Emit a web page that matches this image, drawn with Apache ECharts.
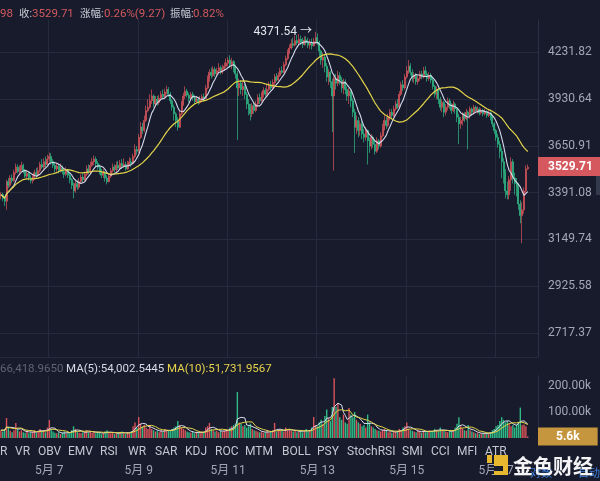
<!DOCTYPE html>
<html><head><meta charset="utf-8">
<script src="https://cdn.jsdelivr.net/npm/echarts@6/dist/echarts.min.js"></script>
<style>html,body{margin:0;padding:0;background:#171b2b;}#c{width:600px;height:481px;}</style>
</head><body><div id="c"></div>
<script>
// ---- data (hourly ETH/USDT candles) ----
const firstOpen = 3375;
const closes = [3380,3360,3345,3450,3430,3470,3455,3500,3530,3505,
3520,3540,3510,3480,3495,3470,3455,3470,3500,3485,
3510,3545,3530,3560,3545,3575,3590,3560,3540,3520,
3535,3510,3525,3505,3490,3510,3485,3460,3430,3400,
3440,3420,3450,3475,3460,3490,3520,3505,3540,3560,
3575,3550,3530,3505,3485,3500,3470,3450,3480,3510,
3530,3515,3540,3525,3550,3535,3545,3520,3545,3560,
3550,3590,3630,3620,3700,3760,3740,3800,3860,3880,
3920,3950,3900,3930,3910,3935,3960,3945,3975,3990,
3960,3920,3880,3840,3800,3760,3840,3900,3950,3980,
3955,3935,3960,3940,3915,3930,3910,3925,3945,3935,
4000,4060,4100,4080,4120,4090,4110,4130,4100,4120,
4140,4160,4180,4150,4170,4130,4090,4000,4030,3990,
4010,3960,3900,3870,3840,3890,3860,3900,3940,3920,
3960,3985,3960,3990,4020,4000,4035,4070,4050,4080,
4110,4100,4150,4190,4230,4260,4290,4280,4310,4295,
4320,4300,4285,4315,4300,4280,4300,4275,4305,4330,
4300,4240,4180,4200,4140,4070,4100,4040,3950,4060,
4030,4080,4050,4000,4040,3990,3950,3980,3920,3850,
3760,3800,3740,3780,3720,3700,3740,3680,3650,3700,
3660,3620,3680,3650,3710,3750,3800,3770,3820,3850,
3830,3870,3900,3880,3960,4020,4000,4070,4110,4140,
4100,4060,4080,4040,4060,4090,4070,4110,4090,4060,
4080,4050,4010,3960,3990,3930,3880,3910,3850,3880,
3920,3890,3860,3900,3870,3820,3780,3800,3840,3810,
3850,3830,3870,3850,3880,3860,3870,3845,3860,3840,
3855,3830,3845,3820,3780,3740,3700,3660,3620,3560,
3500,3400,3380,3460,3560,3470,3440,3420,3330,3270,
3300,3400,3520.44,3529.71];
const highs = [3395,3390,3372,3460,3470,3485,3490,3515,3550,3545,
3540,3560,3550,3520,3515,3505,3485,3490,3515,3525,
3530,3560,3575,3580,3590,3600,3612,3608,3575,3560,
3555,3545,3550,3540,3525,3530,3520,3500,3470,3445,
3455,3460,3470,3490,3495,3505,3540,3545,3560,3580,
3595,3590,3565,3545,3520,3520,3510,3485,3495,3525,
3550,3545,3560,3565,3570,3575,3580,3560,3565,3585,
3580,3605,3660,3650,3720,3790,3785,3830,3890,3930,
3960,3990,3960,3950,3950,3955,3980,3990,3995,4015,
4005,3975,3930,3895,3850,3820,3855,3920,3970,4010,
3995,3970,3975,3975,3955,3950,3945,3950,3960,3965,
4020,4080,4120,4130,4140,4135,4130,4160,4145,4150,
4165,4190,4200,4212,4195,4180,4150,4110,4060,4050,
4040,4025,3975,3930,3900,3905,3910,3920,3960,3965,
3975,4005,4000,4020,4040,4045,4055,4090,4095,4100,
4130,4140,4170,4210,4250,4285,4320,4330,4345,4350,
4355,4345,4330,4340,4340,4330,4320,4325,4330,4371.54,
4360,4310,4250,4230,4215,4160,4120,4110,4060,4080,
4090,4110,4100,4070,4060,4055,4010,4000,3990,3935,
3870,3830,3820,3800,3800,3750,3760,3745,3700,3720,
3710,3680,3700,3690,3730,3780,3830,3820,3840,3870,
3870,3890,3920,3930,3980,4040,4050,4090,4140,4180,
4160,4120,4100,4095,4080,4110,4110,4135,4140,4110,
4100,4095,4065,4020,4010,4000,3945,3930,3920,3900,
3940,3935,3905,3920,3910,3880,3840,3820,3850,3850,
3870,3860,3885,3880,3895,3890,3885,3880,3875,3870,
3870,3860,3865,3855,3830,3790,3750,3720,3680,3640,
3580,3520,3450,3480,3585,3575,3500,3470,3440,3350,
3340,3420,3540,3545];
const lows = [3355,3345,3320,3300,3415,3420,3440,3450,3490,3495,
3490,3510,3495,3470,3465,3455,3440,3440,3460,3470,
3475,3500,3520,3520,3530,3540,3555,3545,3525,3500,
3505,3495,3500,3490,3470,3480,3470,3440,3410,3360,
3390,3405,3410,3440,3445,3450,3480,3490,3495,3530,
3540,3535,3515,3490,3470,3470,3450,3435,3445,3470,
3500,3500,3505,3515,3515,3520,3525,3510,3515,3535,
3530,3545,3580,3600,3610,3690,3720,3730,3790,3850,
3870,3900,3880,3880,3890,3895,3920,3930,3935,3960,
3945,3900,3860,3800,3760,3740,3755,3830,3890,3930,
3940,3910,3925,3920,3900,3905,3895,3900,3910,3915,
3930,3990,4040,4060,4070,4070,4080,4100,4085,4090,
4110,4130,4140,4130,4120,4100,4060,3685,3950,3960,
3950,3930,3870,3830,3800,3820,3840,3850,3880,3900,
3910,3940,3945,3950,3980,3985,3990,4020,4040,4045,
4070,4090,4095,4140,4180,4220,4250,4260,4270,4280,
4285,4280,4260,4275,4280,4260,4255,4250,4270,4290,
4280,4200,4150,4130,4100,4040,4020,4000,3730,3510,
3990,4010,4020,3970,3960,3960,3920,3900,3880,3820,
3610,3720,3700,3710,3690,3670,3680,3545,3610,3630,
3640,3600,3610,3630,3640,3700,3740,3750,3760,3800,
3810,3820,3860,3870,3880,3950,3980,3990,4060,4090,
4080,4040,4030,4020,4020,4045,4055,4060,4075,4040,
4045,4030,3990,3940,3930,3900,3860,3850,3820,3830,
3860,3870,3840,3850,3840,3790,3660,3750,3770,3790,
3800,3630,3810,3830,3835,3845,3840,3830,3835,3825,
3830,3815,3820,3800,3760,3720,3680,3640,3580,3470,
3440,3360,3355,3355,3400,3440,3380,3370,3300,3230,
3130,3280,3390,3516];
const volumesK = [30,25,35,77,40,28,22,30,58,35,
25,30,22,20,28,18,22,25,30,20,
28,35,25,30,22,40,69,35,25,20,
18,22,15,20,25,18,22,20,30,45,
35,25,20,18,22,25,30,22,28,20,
25,18,22,20,15,18,25,30,22,18,
20,15,18,22,20,25,18,15,22,20,
25,45,60,40,81,55,45,50,40,35,
45,35,30,25,28,22,30,25,35,30,
28,30,35,40,45,65,50,40,35,30,
25,22,20,25,18,22,20,18,25,22,
40,45,58,35,30,25,28,22,30,25,
28,35,30,40,45,50,55,177,60,55,
45,50,40,45,55,35,30,28,25,22,
25,20,22,28,20,25,30,58,25,30,
28,35,25,40,30,35,28,25,30,22,
25,30,22,28,35,25,30,40,81,50,
45,60,70,55,85,110,75,65,119,230,
120,135,80,70,90,60,55,115,90,80,
100,70,60,55,45,50,40,90,60,45,
40,35,30,28,25,30,35,28,22,25,
20,25,22,28,35,30,40,45,60,35,
30,28,25,22,30,25,20,28,22,25,
30,28,25,35,30,25,40,30,28,25,
22,28,25,30,40,55,80,45,35,30,
28,50,30,25,22,18,20,15,18,20,
15,18,20,22,30,35,45,50,65,80,
70,60,65,55,45,50,40,52,60,117,
50,52,45.4,5.6];
const priceTicks = [2717.37, 2925.58, 3149.74, 3391.08, 3650.91, 3930.64, 4231.82];
const priceMin = 2615.5, priceMax = 4453.3;
const volumeTicks = [100, 200];
const dateTickIndex = [26, 74, 122, 170, 218, 266];
const dateTickLabels = ['5月 7', '5月 9', '5月 11', '5月 13', '5月 15', '5月 17'];
const indicatorNames = ['R','VR','OBV','EMV','RSI','WR','SAR','KDJ','ROC','MTM','BOLL','PSY','StochRSI','SMI','CCI','MFI','ATR'];
const indicatorX = [0,15,38,68,100,128,155,185,215,245,282,317,347,402,431,457,485];
const headerParts = [['98','r',0],['收:','g',19],['3529.71','r',32],['涨幅:','g',80],['0.26%(9.27)','r',104],['振幅:','g',170],['0.82%','r',193]];
const volHeader = [['66,418.9650','#5e6375',0],['MA(5):54,002.5445','#d8dbe6',66],['MA(10):51,731.9567','#e8d44c',167]];
const totalSlots = 289;

// ---- build ----
const RED = '#d9545a', GREEN = '#2fba86', GRID = '#252a3d', LBL = '#a3a7b5';
const FONT = 'Roboto, "Noto Sans CJK SC", sans-serif';
const L = Math.log; // price axis is logarithmic (value axis over ln(price))
const cats = Array.from({length: totalSlots}, (_, i) => String(i));
const opens = closes.map((c, i) => i === 0 ? firstOpen : closes[i - 1]);
const candles = closes.map((c, i) => {
  const o = opens[i];
  return [L(o), L(c), L(Math.min(lows[i], o, c)), L(Math.max(highs[i], o, c))];
});
function ma(arr, n) {
  return arr.map((_, i) => {
    const s = Math.max(0, i - n + 1); let sum = 0;
    for (let j = s; j <= i; j++) sum += arr[j];
    return sum / (i - s + 1);
  });
}
const volData = volumesK.map((v, i) => ({value: v, itemStyle: {color: closes[i] >= opens[i] ? RED : GREEN}}));
const isDate = (idx) => dateTickIndex.indexOf(idx) >= 0;
const last = closes.length - 1;

function txt(x, y, t, fill, size, extra) {
  return Object.assign({type: 'text', x: x, y: y, style: {text: t, fill: fill, fontSize: size, fontFamily: FONT, verticalAlign: 'middle'}}, extra || {});
}
const graphics = [];
headerParts.forEach(([t, k, x]) => graphics.push(txt(x, 14, t, k === 'r' ? '#d2595d' : '#c9ccd6', k === 'r' ? 11.5 : 10.5)));
volHeader.forEach(([t, c, x]) => graphics.push(txt(x, 369, t, c, 11.5)));
indicatorNames.forEach((t, i) => graphics.push(txt(indicatorX[i], 452, t, '#c4c7d1', 12)));
graphics.push({type: 'rect', shape: {x: 0, y: 357, width: 538, height: 1}, style: {fill: GRID}});
graphics.push({type: 'rect', shape: {x: 596, y: 163, width: 4, height: 32}, style: {fill: '#343a4e'}});
// watermark logo
graphics.push(txt(530, 474, '对数', '#3f7fe0', 11, {z: 90}));
graphics.push(txt(578, 474, '自动', '#3f7fe0', 11, {z: 90}));
graphics.push({type: 'rect', z: 100, shape: {x: 487, y: 455, width: 5, height: 8}, style: {fill: '#e8b730'}});
graphics.push({type: 'rect', z: 100, shape: {x: 494, y: 455, width: 14, height: 20}, style: {fill: '#e8b730'}});
graphics.push({type: 'rect', z: 101, shape: {x: 494, y: 466, width: 9, height: 5}, style: {fill: '#171b2b'}});
graphics.push({type: 'text', z: 100, x: 513, y: 466, style: {text: '金色财经', fill: '#f4f4f6', fontSize: 20, fontWeight: 'bold', fontFamily: '"Noto Sans CJK SC", sans-serif', verticalAlign: 'middle'}});

const option = {
  backgroundColor: '#171b2b',
  animation: false,
  textStyle: {fontFamily: FONT},
  grid: [
    {left: 0, right: 62, top: 20, height: 337},
    {left: 0, right: 62, top: 375.6, height: 62.4}
  ],
  xAxis: [
    {type: 'category', gridIndex: 0, data: cats, boundaryGap: true,
     axisLine: {show: false}, axisTick: {show: false}, axisLabel: {show: false},
     splitLine: {show: true, interval: isDate, lineStyle: {color: GRID, width: 1}}},
    {type: 'category', gridIndex: 1, data: cats, boundaryGap: true,
     axisLine: {show: false}, axisTick: {show: false},
     axisLabel: {show: true, interval: isDate, formatter: (v) => dateTickLabels[dateTickIndex.indexOf(+v)] || '',
                 color: LBL, fontSize: 12, margin: 27},
     splitLine: {show: true, interval: isDate, lineStyle: {color: GRID, width: 1}}}
  ],
  yAxis: [
    {type: 'value', gridIndex: 0, position: 'right', min: L(priceMin), max: L(priceMax),
     axisLine: {show: true, lineStyle: {color: '#2b3044'}},
     axisTick: {show: false, customValues: priceTicks.map(L)},
     axisLabel: {customValues: priceTicks.map(L), formatter: (v) => Math.exp(v).toFixed(2), color: LBL, fontSize: 12, margin: 10},
     splitLine: {show: true, lineStyle: {color: GRID, width: 1}}},
    {type: 'value', gridIndex: 1, position: 'right', min: 0, max: 240,
     axisLine: {show: true, lineStyle: {color: '#2b3044'}},
     axisTick: {show: false, customValues: volumeTicks},
     axisLabel: {customValues: volumeTicks, formatter: (v) => Number(v).toFixed(2) + 'k', color: LBL, fontSize: 12, margin: 10},
     splitLine: {show: false}}
  ],
  series: [
    {type: 'candlestick', xAxisIndex: 0, yAxisIndex: 0, data: candles, barWidth: 1.5,
     itemStyle: {color: RED, color0: GREEN, borderColor: RED, borderColor0: GREEN, borderWidth: 0.7},
     markPoint: {symbol: 'circle', symbolSize: 1, itemStyle: {color: 'rgba(0,0,0,0)'},
       data: [{type: 'max', valueDim: 'highest'}],
       label: {show: true, position: 'left', distance: 3, color: '#e4e6ee', fontSize: 12,
               formatter: (p) => Math.exp(p.value).toFixed(2) + ' →'}},
     markLine: {silent: true, symbol: ['none', 'none'], lineStyle: {color: 'rgba(0,0,0,0)', width: 0},
       data: [{yAxis: L(closes[last])}],
       label: {show: true, position: 'end', distance: 0, formatter: closes[last].toFixed(2),
               backgroundColor: '#d4585d', color: '#ffffff', fontWeight: 'bold', fontSize: 12, padding: [4, 8, 3, 10]}}},
    {type: 'line', xAxisIndex: 0, yAxisIndex: 0, data: ma(closes, 7).map(L), showSymbol: false, symbol: 'none',
     lineStyle: {color: '#d6d9ec', width: 1.1}},
    {type: 'line', xAxisIndex: 0, yAxisIndex: 0, data: ma(closes, 30).map(L), showSymbol: false, symbol: 'none',
     lineStyle: {color: '#e3d44a', width: 1.2}},
    {type: 'bar', xAxisIndex: 1, yAxisIndex: 1, data: volData, barWidth: 1.4,
     markLine: {silent: true, symbol: ['none', 'none'], lineStyle: {color: 'rgba(0,0,0,0)', width: 0},
       data: [{yAxis: volumesK[last]}],
       label: {show: true, position: 'end', distance: 0, formatter: volumesK[last] + 'k',
               backgroundColor: '#c6963f', color: '#ffffff', fontWeight: 'bold', fontSize: 12, padding: [3, 18, 3, 18]}}},
    {type: 'line', xAxisIndex: 1, yAxisIndex: 1, data: ma(volumesK, 5), showSymbol: false, symbol: 'none',
     lineStyle: {color: '#d9dcef', width: 1}},
    {type: 'line', xAxisIndex: 1, yAxisIndex: 1, data: ma(volumesK, 10), showSymbol: false, symbol: 'none',
     lineStyle: {color: '#e3d44a', width: 1}}
  ],
  graphic: graphics
};
const chart = echarts.init(document.getElementById('c'));
chart.setOption(option);
</script></body></html>
